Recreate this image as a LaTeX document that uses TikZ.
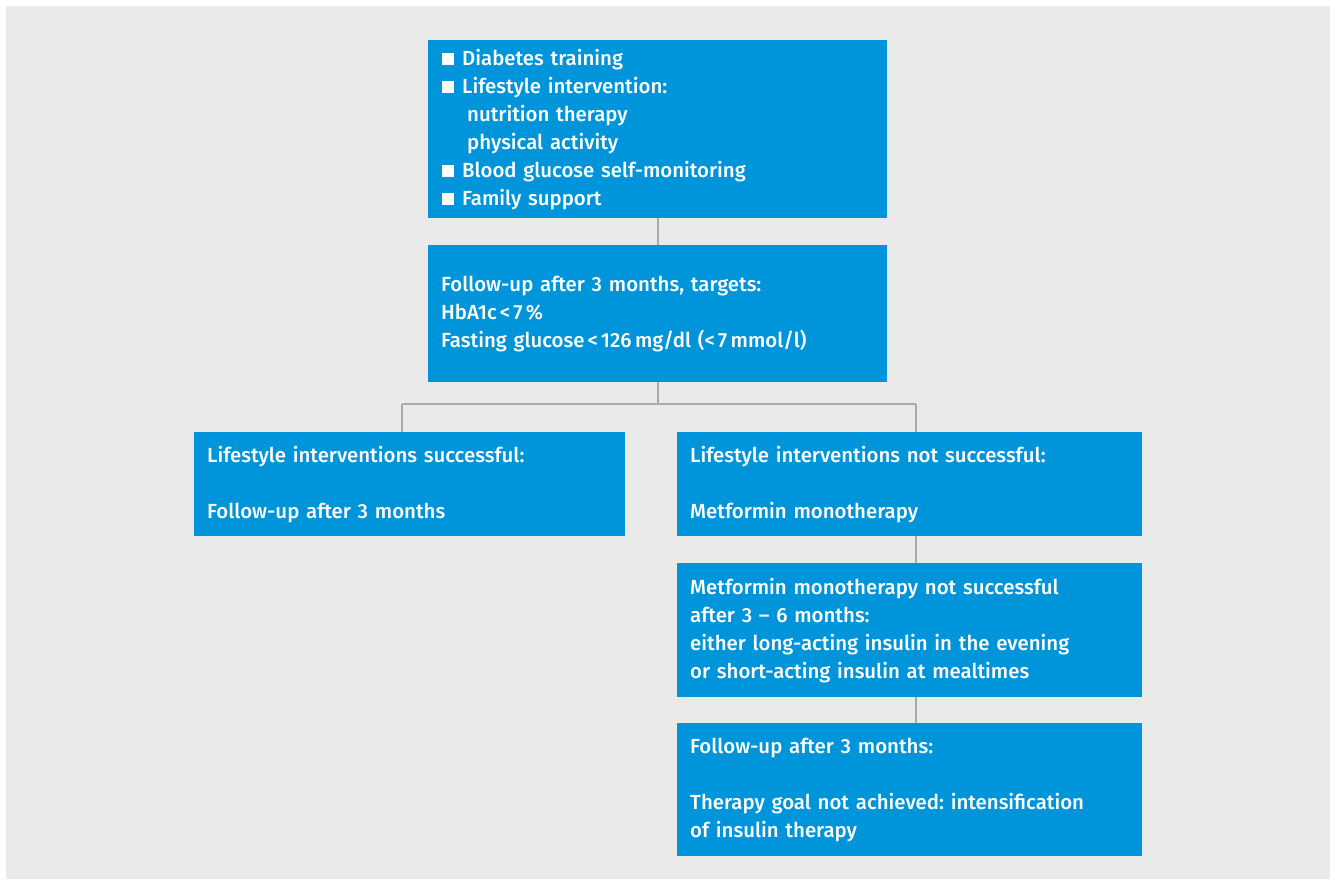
\documentclass[tikz,border=0pt]{standalone}
\usepackage{fontspec}
\setmainfont{Fira Sans}[UprightFont={* Medium}]
\usetikzlibrary{positioning,calc}
\definecolor{boxblue}{RGB}{0,149,218}
\definecolor{panelgray}{RGB}{234,234,234}
\definecolor{linegray}{RGB}{170,170,170}
\newcommand{\sqbul}{\hspace*{1pt}\raisebox{0.5pt}{\rule{12pt}{12pt}}\hspace{8pt}}
\newcommand{\subline}{\hspace*{26pt}}
\newcommand{\lt}{\hspace{3pt}<\hspace{3pt}}
\tikzset{
  flowbox/.style = {rectangle, fill=boxblue, text=white, align=left, anchor=north west, inner xsep=13pt, inner ysep=0pt, font=\fontsize{20.4}{28}\selectfont\frenchspacing},
  link/.style = {draw=linegray, line width=2pt},
}
\begin{document}
\begin{tikzpicture}[x=1pt, y=-1pt]
\useasboundingbox (0,0) rectangle (1335,879);
\fill[white] (0,0) rectangle (1335,879);
\fill[panelgray] (6,6) rectangle (1330,879);
% boxes
\node[flowbox, text width=433pt, minimum height=178pt] (measures) at (428,40) {\sqbul Diabetes training\\ \sqbul Lifestyle intervention:\\ \subline nutrition therapy\\ \subline physical activity\\ \sqbul Blood glucose self-monitoring\\ \sqbul Family support};
\node[flowbox, text width=433pt, minimum height=137pt] (targets) at (428,245) {Follow-up after 3 months, targets:\\ HbA1c\lt 7\,\%\\ Fasting glucose\lt 126\,mg/dl (<\hspace{3pt}7\,mmol/l)};
\node[flowbox, text width=405pt, minimum height=104pt] (success) at (194,432) {Lifestyle interventions successful:\\[28pt] Follow-up after 3 months};
\node[flowbox, text width=439pt, minimum height=104pt] (fail) at (677,432) {Lifestyle interventions not successful:\\[28pt] Metformin monotherapy};
\node[flowbox, text width=439pt, minimum height=134pt] (insulin) at (677,563) {Metformin monotherapy not successful\\ after 3 -- 6 months:\\ either long-acting insulin in the evening\\ or short-acting insulin at mealtimes};
\node[flowbox, text width=439pt, minimum height=133pt] (intens) at (677,723) {Follow-up after 3 months:\\[28pt] Therapy goal not achieved: intensification\\ of insulin therapy};
% connectors
\coordinate (lbr) at (402,404);
\coordinate (rbr) at (916,404);
\draw[link] (measures.south) -- (targets.north);
\draw[link] (targets.south) -- (targets.south |- lbr);
\draw[link] (lbr) -- (rbr);
\draw[link] (lbr) -- (lbr |- success.north);
\draw[link] (rbr) -- (rbr |- fail.north);
\draw[link] (rbr |- fail.south) -- (rbr |- insulin.north);
\draw[link] (rbr |- insulin.south) -- (rbr |- intens.north);
\end{tikzpicture}
\end{document}
